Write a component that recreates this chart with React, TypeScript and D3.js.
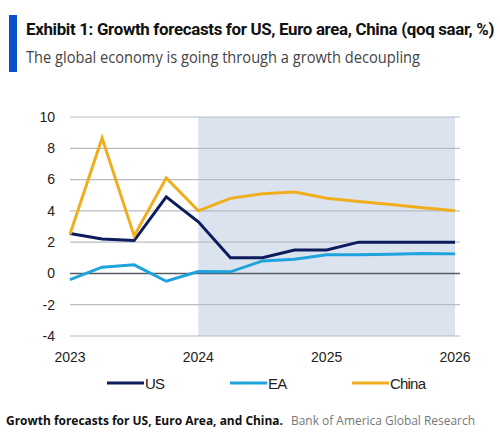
import * as d3 from 'd3';
import React from 'react';

// quarterly points, 2023Q1 .. 2026Q1
const quarters: number[] = d3.range(13).map((i) => 2023 + i / 4);
const us = [2.55, 2.2, 2.1, 4.9, 3.3, 1.0, 1.0, 1.5, 1.5, 2.0, 2.0, 2.0, 2.0];
const ea = [-0.4, 0.4, 0.55, -0.5, 0.12, 0.1, 0.8, 0.9, 1.2, 1.2, 1.22, 1.28, 1.25];
const china = [2.5, 8.65, 2.4, 6.1, 4.0, 4.8, 5.1, 5.2, 4.8, 4.6, 4.4, 4.2, 4.0];
const yTicks = [-4, -2, 0, 2, 4, 6, 8, 10];
const xTicks = [2023, 2024, 2025, 2026];
const forecastStart = 2024;

const series = [
    { name: 'US', values: us, color: '#0c1c5c' },
    { name: 'EA', values: ea, color: '#1ea3dd' },
    { name: 'China', values: china, color: '#f0ad1c' },
];

const width = 500;
const height = 433;
const plot = { left: 70, right: 455, top: 117, bottom: 336 };

const App = () => {
    const x = d3.scaleLinear().domain([2023, 2026]).range([plot.left, plot.right]);
    const y = d3.scaleLinear().domain([-4, 10]).range([plot.bottom, plot.top]);

    const line = d3
        .line<number>()
        .x((_, i) => x(quarters[i]))
        .y((d) => y(d));

    const axisFont = '"Liberation Sans", Arial, sans-serif';
    const headFont = '"Open Sans", sans-serif';

    return (
        <div style={{ position: 'absolute', left: 0, top: 0 }}>
            <svg width={width} height={height} style={{ display: 'block', background: '#fff' }}>
                <rect x={9} y={15} width={8} height={57} fill="#0a52c9" />
                <text
                    x={26}
                    y={35}
                    fontFamily="Roboto, sans-serif"
                    fontWeight="bold"
                    fontSize={16}
                    letterSpacing={-0.3}
                    textLength={468}
                    lengthAdjust="spacingAndGlyphs"
                    fill="#111"
                >
                    Exhibit 1: Growth forecasts for US, Euro area, China (qoq saar, %)
                </text>
                <text
                    x={26}
                    y={63}
                    fontFamily={headFont}
                    fontSize={16}
                    textLength={394}
                    lengthAdjust="spacingAndGlyphs"
                    fill="#444"
                >
                    The global economy is going through a growth decoupling
                </text>

                <rect
                    x={x(forecastStart)}
                    y={plot.top}
                    width={x(2026) - x(forecastStart)}
                    height={plot.bottom - plot.top}
                    fill="#dbe3ef"
                />

                {yTicks.map((t) => (
                    <g key={t}>
                        <line
                            x1={plot.left}
                            x2={plot.right + 5}
                            y1={y(t)}
                            y2={y(t)}
                            stroke={t === 0 ? '#555b66' : '#b8bcc4'}
                            strokeWidth={t === 0 ? 1.5 : 1.2}
                        />
                        <text
                            x={55}
                            y={y(t)}
                            dy="0.35em"
                            textAnchor="end"
                            fontFamily={axisFont}
                            fontSize={14}
                            fill="#222"
                        >
                            {t}
                        </text>
                    </g>
                ))}

                {xTicks.map((t) => (
                    <text
                        key={t}
                        x={x(t)}
                        y={362}
                        textAnchor="middle"
                        fontFamily={axisFont}
                        fontSize={14}
                        fill="#222"
                    >
                        {t}
                    </text>
                ))}

                {series.map((s) => (
                    <path
                        key={s.name}
                        d={line(s.values) ?? ''}
                        fill="none"
                        stroke={s.color}
                        strokeWidth={3}
                        strokeLinejoin="miter"
                    />
                ))}

                {series.map((s, i) => {
                    const lx = [107, 230, 352][i];
                    return (
                        <g key={s.name}>
                            <line x1={lx} x2={lx + 37} y1={383} y2={383} stroke={s.color} strokeWidth={3} />
                            <text
                                x={lx + 38}
                                y={389}
                                fontFamily={axisFont}
                                fontSize={15}
                                letterSpacing={-0.8}
                                fill="#222"
                            >
                                {s.name}
                            </text>
                        </g>
                    );
                })}

                <text
                    x={6}
                    y={425}
                    fontFamily={headFont}
                    fontSize={12}
                    fontWeight="bold"
                    fill="#111"
                    textLength={277}
                    lengthAdjust="spacingAndGlyphs"
                >
                    Growth forecasts for US, Euro Area, and China.
                </text>
                <text
                    x={291}
                    y={425}
                    fontFamily={headFont}
                    fontSize={12}
                    fill="#777"
                    textLength={184}
                    lengthAdjust="spacingAndGlyphs"
                >
                    Bank of America Global Research
                </text>
            </svg>
        </div>
    );
};

export default App;
